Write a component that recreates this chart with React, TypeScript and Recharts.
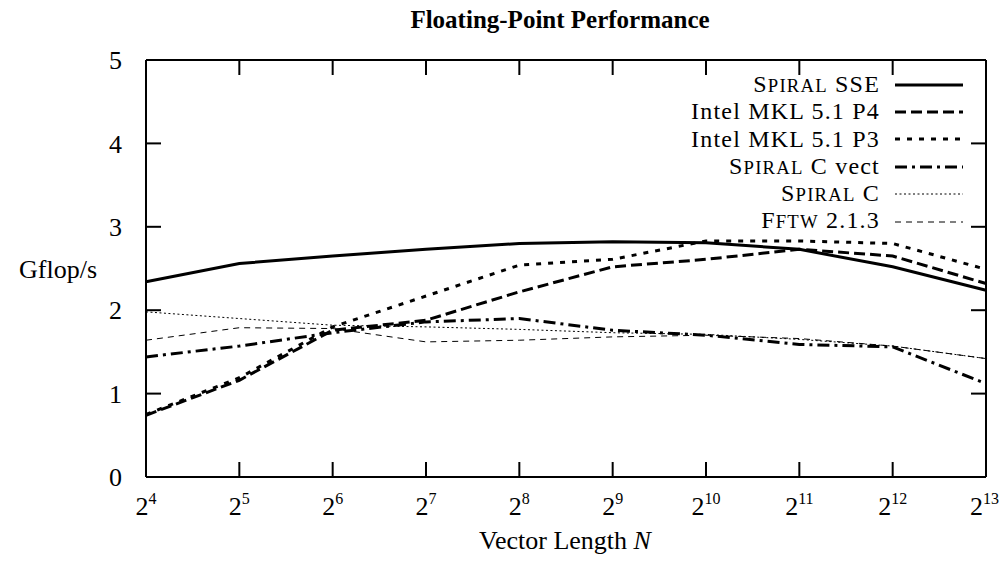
import React from "react";
import { LineChart, Line, XAxis, YAxis, Legend } from "recharts";

const FONT = "'Liberation Serif', 'Times New Roman', serif";

// x positions are log2(N), labelled 2^n
const log2N = [4, 5, 6, 7, 8, 9, 10, 11, 12, 13];
const yTicks = [0, 1, 2, 3, 4, 5];

// Gflop/s
const spiralSse = [2.34, 2.56, 2.65, 2.73, 2.8, 2.82, 2.81, 2.73, 2.52, 2.24];
const mklP4 = [0.74, 1.16, 1.76, 1.88, 2.22, 2.52, 2.61, 2.73, 2.65, 2.32];
const mklP3 = [0.75, 1.19, 1.8, 2.17, 2.54, 2.61, 2.83, 2.83, 2.8, 2.49];
const spiralCVect = [1.44, 1.57, 1.73, 1.86, 1.9, 1.76, 1.7, 1.59, 1.56, 1.12];
const spiralC = [1.98, 1.9, 1.82, 1.8, 1.77, 1.73, 1.71, 1.65, 1.57, 1.42];
const fftw = [1.64, 1.79, 1.78, 1.62, 1.64, 1.68, 1.7, 1.66, 1.57, 1.42];

const data = log2N.map((e, i) => ({
  e,
  sse: spiralSse[i],
  p4: mklP4[i],
  p3: mklP3[i],
  cvect: spiralCVect[i],
  c: spiralC[i],
  fftw: fftw[i],
}));

// small caps the way LaTeX \textsc looks
const sc = (first: string, rest: string) => (
  <>
    {first}
    <span style={{ fontSize: "0.78em", fontFamily: FONT }}>{rest}</span>
  </>
);

const series = [
  { key: "sse", label: <>{sc("S", "PIRAL")} SSE</>, width: 3, dash: undefined as string | undefined },
  { key: "p4", label: <>Intel MKL 5.1 P4</>, width: 3, dash: "11 5" },
  { key: "p3", label: <>Intel MKL 5.1 P3</>, width: 3, dash: "5 7" },
  { key: "cvect", label: <>{sc("S", "PIRAL")} C vect</>, width: 3, dash: "12 5 3 5" },
  { key: "c", label: <>{sc("S", "PIRAL")} C</>, width: 1, dash: "2 2.5" },
  { key: "fftw", label: <>{sc("F", "FTW")} 2.1.3</>, width: 1, dash: "6 5" },
];

const lastExp = log2N[log2N.length - 1];

function BottomTick(props: any) {
  const { x, y, payload } = props;
  // keep the last label inside the page edge
  const isLast = payload.value === lastExp;
  return (
    <g>
      <line x1={x} y1={y} x2={x} y2={y - 15} stroke="#000" strokeWidth={2} />
      <text
        x={isLast ? x + 13 : x}
        y={y + 38}
        textAnchor={isLast ? "end" : "middle"}
        fontSize={26}
        fontFamily={FONT}
        fill="#000"
      >
        <tspan>2</tspan>
        <tspan dy={-11} fontSize={16}>{payload.value}</tspan>
      </text>
    </g>
  );
}

function TopTick(props: any) {
  const { x, y } = props;
  return <line x1={x} y1={y} x2={x} y2={y + 15} stroke="#000" strokeWidth={2} />;
}

function LeftTick(props: any) {
  const { x, y, payload } = props;
  return (
    <g>
      <line x1={x} y1={y} x2={x + 15} y2={y} stroke="#000" strokeWidth={2} />
      <text x={x - 24} y={y} dy="0.35em" textAnchor="end" fontSize={26} fontFamily={FONT} fill="#000">
        {payload.value}
      </text>
    </g>
  );
}

function RightTick(props: any) {
  const { x, y } = props;
  return <line x1={x} y1={y} x2={x - 15} y2={y} stroke="#000" strokeWidth={2} />;
}

function LegendBox() {
  return (
    <div style={{ fontFamily: FONT, fontSize: 24, color: "#000" }}>
      {series.map((s) => (
        <div
          key={s.key}
          style={{ display: "flex", alignItems: "center", justifyContent: "flex-end", height: 27.4, lineHeight: "27.4px" }}
        >
          <span style={{ fontFamily: FONT, letterSpacing: 1.2 }}>{s.label}</span>
          <svg width={68} height={10} style={{ marginLeft: 15, marginRight: 5 }}>
            <line x1={0} y1={5} x2={68} y2={5} stroke="#000" strokeWidth={s.width} strokeDasharray={s.dash} />
          </svg>
        </div>
      ))}
    </div>
  );
}

export default function App() {
  return (
    <div style={{ position: "relative", width: 999, height: 556, fontFamily: FONT, color: "#000" }}>
      <style>{"svg.recharts-surface { overflow: visible; }"}</style>
      <div
        style={{ position: "absolute", left: 252, width: 600, top: -2, textAlign: "center", fontSize: 25, fontWeight: "bold" }}
      >
        Floating-Point Performance
      </div>
      <div style={{ position: "absolute", left: 2, width: 96, top: 247, textAlign: "center", fontSize: 26 }}>Gflop/s</div>
      <div style={{ position: "absolute", left: 257, width: 600, top: 518, textAlign: "center", fontSize: 26 }}>
        Vector Length <i>N</i>
      </div>
      <LineChart width={999} height={556} data={data} margin={{ top: 0, right: 0, bottom: 0, left: 0 }}>
        <XAxis
          dataKey="e"
          type="number"
          domain={[4, 13]}
          ticks={log2N}
          interval={0}
          height={87}
          axisLine={{ stroke: "#000", strokeWidth: 2 }}
          tickLine={false}
          tickSize={0}
          tickMargin={0}
          tick={<BottomTick />}
        />
        <XAxis
          xAxisId="top"
          orientation="top"
          dataKey="e"
          type="number"
          domain={[4, 13]}
          allowDataOverflow
          ticks={log2N}
          interval={0}
          height={52}
          axisLine={{ stroke: "#000", strokeWidth: 2 }}
          tickLine={false}
          tickSize={0}
          tickMargin={0}
          tick={<TopTick />}
        />
        <YAxis
          type="number"
          domain={[0, 5]}
          ticks={yTicks}
          interval={0}
          width={138}
          axisLine={{ stroke: "#000", strokeWidth: 2 }}
          tickLine={false}
          tickSize={0}
          tickMargin={0}
          tick={<LeftTick />}
        />
        <YAxis
          yAxisId="right"
          orientation="right"
          type="number"
          domain={[0, 5]}
          allowDataOverflow
          ticks={yTicks}
          interval={0}
          width={21}
          axisLine={{ stroke: "#000", strokeWidth: 2 }}
          tickLine={false}
          tickSize={0}
          tickMargin={0}
          tick={<RightTick />}
        />
        <Legend
          layout="vertical"
          align="center"
          verticalAlign="middle"
          content={() => <LegendBox />}
          wrapperStyle={{ left: 560, top: 63, width: 400, height: 170 }}
        />
        {series.map((s) => (
          <Line
            key={s.key}
            type="linear"
            dataKey={s.key}
            stroke="#000"
            strokeWidth={s.width}
            strokeDasharray={s.dash}
            dot={false}
            activeDot={false}
            isAnimationActive={false}
          />
        ))}
      </LineChart>
    </div>
  );
}
